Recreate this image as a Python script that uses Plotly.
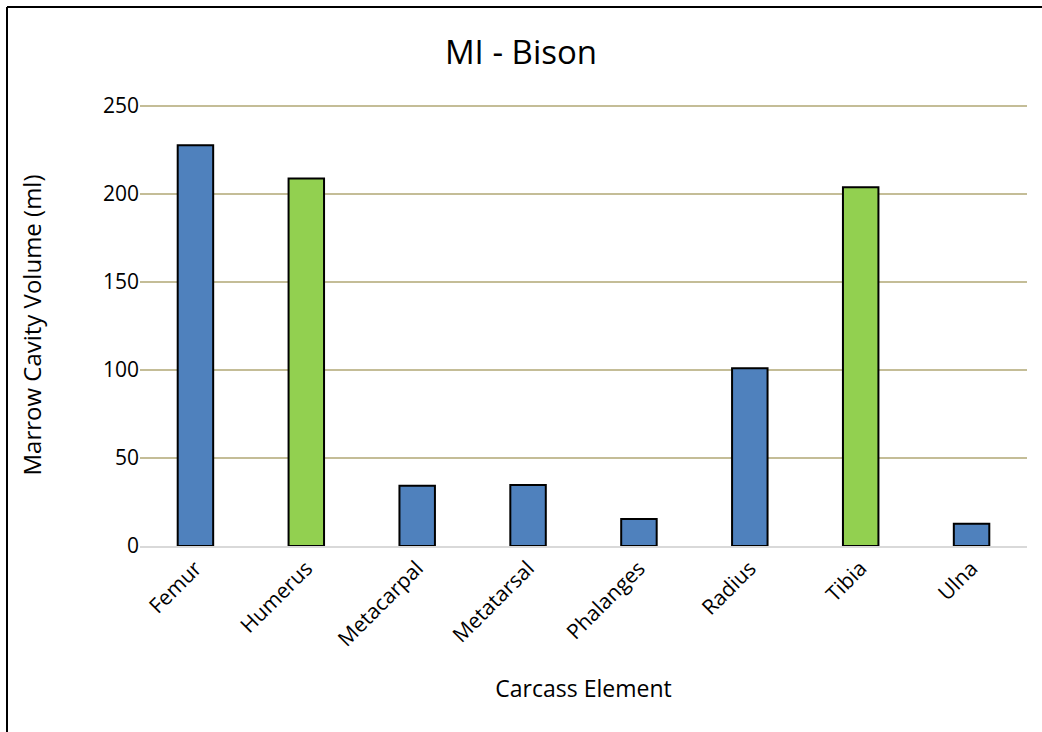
import plotly.graph_objects as go

categories = ["Femur", "Humerus", "Metacarpal", "Metatarsal", "Phalanges", "Radius", "Tibia", "Ulna"]
values = [227.7, 208.8, 34.3, 34.6, 15.4, 101.0, 203.8, 12.6]
bar_colors = ["#4f81bd", "#92d050", "#4f81bd", "#4f81bd", "#4f81bd", "#4f81bd", "#92d050", "#4f81bd"]
y_ticks = [0, 50, 100, 150, 200, 250]

FONT = "'Open Sans', Lato, sans-serif"

fig = go.Figure(go.Bar(
    x=categories, y=values,
    marker=dict(color=bar_colors, line=dict(color="#000000", width=2)),
))

W, H = 1042, 732
L, R, T, B = 140, 15, 104, 186
pw, ph = W - L - R, H - T - B
ytop = ph / 1.76

def px_x(x):
    return (x - L) / pw

def px_y(y):
    return (H - B - y) / ph

fig.update_layout(
    width=W, height=H,
    margin=dict(l=L, r=R, t=T, b=B),
    paper_bgcolor="white", plot_bgcolor="white",
    bargap=0.68,
    showlegend=False,
    font=dict(family=FONT, color="#000000"),
    title=dict(text="MI - Bison", x=0.5, xanchor="center", y=1 - 52 / H, yanchor="middle",
               font=dict(size=33, family=FONT, color="#000000")),
    xaxis=dict(
        tickangle=-45, tickfont=dict(size=21, family=FONT),
        showgrid=False, showline=True, linecolor="#d9d9d9", linewidth=1.5,
        ticks="", title=dict(text="Carcass Element", font=dict(size=23, family=FONT), standoff=30),
    ),
    yaxis=dict(
        range=[0, ytop], tickvals=y_ticks, tickfont=dict(size=21, family=FONT),
        showgrid=True, gridcolor="#c4bd97", gridwidth=1.5,
        zeroline=False, showline=False, ticks="", ticklen=0,
        title=dict(text="Marrow Cavity Volume (ml)", font=dict(size=24, family=FONT), standoff=54),
    ),
    shapes=[dict(type="line", xref="paper", yref="paper",
                 x0=px_x(7), x1=px_x(1060), y0=px_y(7), y1=px_y(7),
                 line=dict(color="#000000", width=2)),
            dict(type="line", xref="paper", yref="paper",
                 x0=px_x(7), x1=px_x(7), y0=px_y(7), y1=px_y(760),
                 line=dict(color="#000000", width=2))],
)

fig.write_html("out.html", config={"displayModeBar": False},
               post_script="document.body.style.margin='0';document.body.style.overflow='hidden';")
